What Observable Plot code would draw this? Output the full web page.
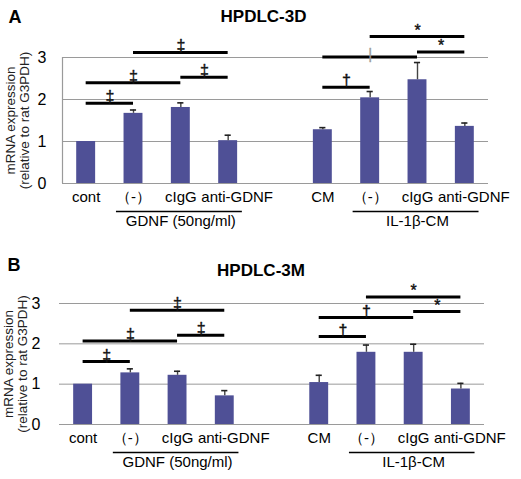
<!DOCTYPE html>
<html>
<head>
<meta charset="utf-8">
<script src="https://cdn.jsdelivr.net/npm/d3@7"></script>
<script src="https://cdn.jsdelivr.net/npm/@observablehq/plot@0.6"></script>
<style>
  body { margin: 0; background: #fff; }
  #chart svg { display: block; }
</style>
</head>
<body>
<div id="chart"></div>
<script>
// Conditions along the x axis (index = slot; slot 4 separates the two treatment sets)
const conditions = ["cont", "（-）", "cIgG", "anti-GDNF", "", "CM", "（-）", "cIgG", "anti-GDNF"];

// Treatment groups underlined beneath the condition labels
const groupLabels = ["GDNF (50ng/ml)", "IL-1β-CM"];
const groupFirst = [1, 6];
const groupLast = [3, 8];

// Panel A: HPDLC-3D
const meanA = [1.00, 1.67, 1.81, 1.02, null, 1.28, 2.04, 2.47, 1.36];
const errA  = [0.00, 0.08, 0.11, 0.13, null, 0.05, 0.15, 0.41, 0.08];
const sigFromA  = [0, 0, 2, 1, 5, 5, 6, 7];
const sigToA    = [1, 2, 3, 3, 6, 7, 8, 8];
const sigLevelA = [1.91, 2.40, 2.53, 3.12, 2.29, 3.01, 3.50, 3.13];
const sigMarkA  = ["‡", "‡", "‡", "‡", "†", "|", "*", "*"];

// Panel B: HPDLC-3M
const meanB = [1.00, 1.28, 1.22, 0.71, null, 1.04, 1.79, 1.79, 0.88];
const errB  = [0.00, 0.10, 0.10, 0.13, null, 0.18, 0.18, 0.20, 0.14];
const sigFromB  = [0, 0, 2, 1, 5, 5, 6, 7];
const sigToB    = [1, 2, 3, 3, 6, 7, 8, 8];
const sigLevelB = [1.56, 2.07, 2.21, 2.83, 2.18, 2.65, 3.16, 2.80];
const sigMarkB  = ["‡", "‡", "‡", "‡", "†", "†", "*", "*"];

const yTicks = [0, 1, 2, 3];
const yLabel = "mRNA expression\n(relative to rat G3PDH)";

const FONT = "'Liberation Sans', Arial, Helvetica, sans-serif";
const BAR = "#4f5096";
const GRID = "#9a9a9a";

function panel({letter, title, mean, err, sigFrom, sigTo, sigLevel, sigMark,
                height, margins, tickPadding, leftLine, letterPos, titlePos, yLabelDx}) {
  const bars = mean.map((m, i) => ({pos: i, mean: m, err: err[i]})).filter(d => d.mean != null);
  const errs = bars.filter(d => d.err > 0);
  const sig = sigFrom.map((f, i) => ({from: f, to: sigTo[i], level: sigLevel[i], mark: sigMark[i]}));
  const groups = groupLabels.map((g, i) => ({label: g, first: groupFirst[i], last: groupLast[i]}));
  const slots = conditions.map((c, i) => i).filter(i => conditions[i] !== "");
  // the wide "anti-GDNF" labels are nudged right so they clear "cIgG"
  const isWide = i => conditions[i].length > 6;

  return Plot.plot({
    width: 521,
    height,
    ...margins,
    style: {fontFamily: FONT, background: "#fff", color: "#000"},
    x: {domain: [-0.5, 8.5], axis: null},
    y: {domain: [0, 3], axis: null},
    marks: [
      Plot.ruleY(yTicks.slice(1), {stroke: GRID, strokeWidth: 1}),
      Plot.ruleY([0], {stroke: GRID, strokeWidth: 1.2}),
      leftLine ? Plot.ruleX([-0.5], {y1: 0, y2: 3, stroke: GRID, strokeWidth: 1.2}) : null,
      Plot.rect(bars, {x1: d => d.pos - 0.2, x2: d => d.pos + 0.2, y1: 0, y2: "mean", fill: BAR}),
      Plot.ruleX(errs, {x: "pos", y1: "mean", y2: d => d.mean + d.err, stroke: "#444", strokeWidth: 1.4}),
      Plot.ruleY(errs, {x1: d => d.pos - 0.065, x2: d => d.pos + 0.065, y: d => d.mean + d.err, stroke: "#222", strokeWidth: 1.6}),
      // significance brackets
      Plot.ruleY(sig, {x1: "from", x2: "to", y: "level", stroke: "#000", strokeWidth: 3}),
      Plot.text(sig.filter(d => d.mark !== "|"), {
        x: d => (d.from + d.to) / 2, y: "level", text: "mark",
        lineAnchor: "bottom", dy: -1, fontSize: 16, fill: "#111",
        stroke: "#111", strokeWidth: 0.4, paintOrder: "normal"
      }),
      Plot.text(sig.filter(d => d.mark === "|"), {
        x: d => (d.from + d.to) / 2, y: "level", text: "mark",
        lineAnchor: "bottom", dy: 2, fontSize: 15, fill: "#999",
        stroke: "#999", strokeWidth: 0.3, paintOrder: "normal"
      }),
      // axes
      Plot.axisY({ticks: yTicks, tickFormat: d => String(d), tickSize: 0, tickPadding, fontSize: 16, label: null}),
      Plot.axisX({ticks: slots.filter(i => !isWide(i)), tickFormat: i => conditions[i], tickSize: 0, tickPadding: 8, fontSize: 15, label: null}),
      Plot.axisX({ticks: slots.filter(isWide), tickFormat: i => conditions[i], tickSize: 0, tickPadding: 8, fontSize: 15, dx: 9, label: null}),
      Plot.text([yLabel], {frameAnchor: "left", textAnchor: "middle", lineAnchor: "middle", rotate: -90, dx: yLabelDx, fontSize: 13.5, lineHeight: 1.05, fill: "#222"}),
      // treatment groups
      Plot.ruleY(groups, {x1: d => d.first - 0.36, x2: d => d.last + 0.3, y: 0, dy: 28, stroke: "#000", strokeWidth: 1.6}),
      Plot.text(groups, {x: d => (d.first + d.last) / 2, y: 0, dy: 38, text: "label", fontSize: 15}),
      // panel letter and title
      Plot.text([letter], {frameAnchor: "top-left", dx: letterPos[0], dy: letterPos[1], textAnchor: "start", lineAnchor: "middle", fontSize: 18, fontWeight: "bold"}),
      Plot.text([title], {frameAnchor: "top", dx: titlePos[0], dy: titlePos[1], textAnchor: "middle", lineAnchor: "middle", fontSize: 17, fontWeight: "bold"})
    ]
  });
}

const chart = document.getElementById("chart");
chart.append(panel({
  letter: "A", title: "HPDLC-3D",
  mean: meanA, err: errA, sigFrom: sigFromA, sigTo: sigToA, sigLevel: sigLevelA, sigMark: sigMarkA,
  height: 240,
  margins: {marginTop: 57, marginBottom: 57, marginLeft: 62, marginRight: 33},
  tickPadding: 16, leftLine: true,
  letterPos: [-54, -40], titlePos: [-12, -41], yLabelDx: -45
}));
chart.append(panel({
  letter: "B", title: "HPDLC-3M",
  mean: meanB, err: errB, sigFrom: sigFromB, sigTo: sigToB, sigLevel: sigLevelB, sigMark: sigMarkB,
  height: 239,
  margins: {marginTop: 63, marginBottom: 55, marginLeft: 59, marginRight: 37},
  tickPadding: 19, leftLine: false,
  letterPos: [-52, -38], titlePos: [-11, -33], yLabelDx: -44
}));
</script>
</body>
</html>
